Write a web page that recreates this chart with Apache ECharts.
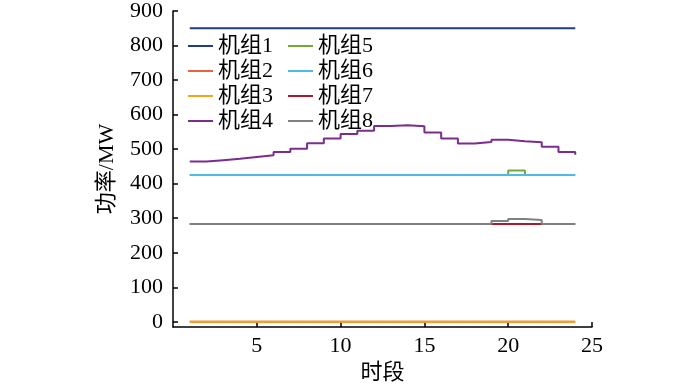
<!DOCTYPE html>
<html>
<head>
<meta charset="utf-8">
<script src="https://cdn.jsdelivr.net/npm/echarts@6/dist/echarts.min.js"></script>
<style>
  html, body { margin: 0; padding: 0; background: #fff; }
  #main { width: 700px; height: 385px; }
</style>
</head>
<body>
<div id="main"></div>
<script>
// 时段 1..24
const hours = [1, 2, 3, 4, 5, 6, 7, 8, 9, 10, 11, 12, 13, 14, 15, 16, 17, 18, 19, 20, 21, 22, 23, 24];
const names = ['机组1', '机组2', '机组3', '机组4', '机组5', '机组6', '机组7', '机组8'];
const colors = ['#1f3d8c', '#e8643a', '#f0a51c', '#7b2c8e', '#74ab35', '#4fbbe4', '#a51c30', '#808080'];

const unit1 = [850, 850, 850, 850, 850, 850, 850, 850, 850, 850, 850, 850, 850, 850, 850, 850, 850, 850, 850, 850, 850, 850, 850, 850];
const unit2 = [0, 0, 0, 0, 0, 0, 0, 0, 0, 0, 0, 0, 0, 0, 0, 0, 0, 0, 0, 0, 0, 0, 0, 0];
const unit3 = [0, 0, 0, 0, 0, 0, 0, 0, 0, 0, 0, 0, 0, 0, 0, 0, 0, 0, 0, 0, 0, 0, 0, 0];
const unit4 = [464, 468, 472, 477, 482, 492, 501, 517, 531, 544, 553, 567, 569, 566, 548, 531, 516, 521, 527, 523, 520, 507, 492, 484];
const unit5 = [425, 425, 425, 425, 425, 425, 425, 425, 425, 425, 425, 425, 425, 425, 425, 425, 425, 425, 425, 438, 425, 425, 425, 425];
const unit6 = [425, 425, 425, 425, 425, 425, 425, 425, 425, 425, 425, 425, 425, 425, 425, 425, 425, 425, 425, 425, 425, 425, 425, 425];
const unit7 = [283, 283, 283, 283, 283, 283, 283, 283, 283, 283, 283, 283, 283, 283, 283, 283, 283, 283, 283, 283, 283, 283, 283, 283];
const unit8 = [283, 283, 283, 283, 283, 283, 283, 283, 283, 283, 283, 283, 283, 283, 283, 283, 283, 283, 292, 298, 295, 283, 283, 283];
const units = [unit1, unit2, unit3, unit4, unit5, unit6, unit7, unit8];

const yTicks = [0, 100, 200, 300, 400, 500, 600, 700, 800, 900];
const xTicks = [5, 10, 15, 20, 25];

const font = '"Liberation Serif", "Noto Sans CJK SC", serif';

let myChart = echarts.init(document.getElementById('main'));

let series = units.map(function (vals, k) {
  return {
    name: names[k],
    type: 'line',
    step: 'end',
    symbol: 'none',
    z: 2 + k,
    data: vals.map(function (v, i) { return [hours[i], v]; }),
    lineStyle: { width: 2, color: colors[k] },
    itemStyle: { color: colors[k] }
  };
});

const legendBase = {
  orient: 'vertical',
  itemWidth: 25,
  itemHeight: 14,
  itemGap: 3,
  top: 30,
  itemStyle: { color: 'rgba(0,0,0,0)', borderWidth: 0 },
  textStyle: { fontFamily: font, fontSize: 22, color: '#000', lineHeight: 22 }
};

let option = {
  backgroundColor: '#fff',
  animation: false,
  color: colors,
  grid: { left: 173, right: 108, top: 11, bottom: 58, outerBoundsMode: 'none' },
  legend: [
    Object.assign({}, legendBase, { left: 182, data: names.slice(0, 4) }),
    Object.assign({}, legendBase, { left: 282, data: names.slice(4) })
  ],
  xAxis: {
    type: 'value',
    min: 0,
    max: 25,
    interval: 5,
    name: '时段',
    nameLocation: 'middle',
    nameGap: 34,
    nameTextStyle: { fontFamily: font, fontSize: 22, color: '#000' },
    axisLine: { onZero: false, lineStyle: { color: '#000', width: 1.5 } },
    axisTick: { inside: true, length: 5, customValues: xTicks, lineStyle: { color: '#000', width: 1.5 } },
    axisLabel: { customValues: xTicks, fontFamily: font, fontSize: 22, color: '#000', margin: 8 },
    splitLine: { show: false }
  },
  yAxis: {
    type: 'value',
    min: -15,
    max: 900,
    name: '功率/MW',
    nameLocation: 'middle',
    nameGap: 55,
    nameTextStyle: { fontFamily: font, fontSize: 22, color: '#000' },
    axisLine: { show: true, onZero: false, lineStyle: { color: '#000', width: 1.5 } },
    axisTick: { show: true, inside: true, length: 5, customValues: yTicks, lineStyle: { color: '#000', width: 1.5 } },
    axisLabel: { customValues: yTicks, fontFamily: font, fontSize: 22, color: '#000', margin: 10 },
    splitLine: { show: false }
  },
  series: series
};

myChart.setOption(option);
</script>
</body>
</html>
